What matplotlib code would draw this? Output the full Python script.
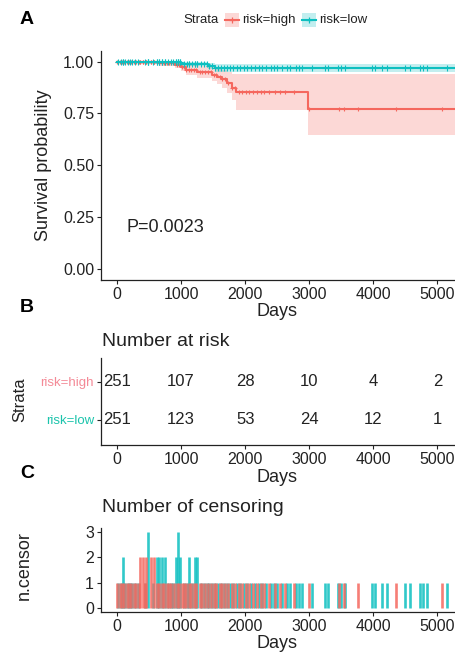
import numpy as np
import matplotlib.pyplot as plt
from matplotlib.lines import Line2D
from matplotlib.patches import Rectangle

W, H = 455, 655
RED = '#F5675E'
TEAL = '#0DBFC0'
INK = '#222222'

# Kaplan-Meier steps
high_time = [0, 320, 650, 900, 1000, 1080, 1250, 1480, 1560, 1640, 1720, 1790, 1850, 2980]
high_surv = [1.0, 0.996, 0.992, 0.985, 0.975, 0.958, 0.948, 0.937, 0.926, 0.915, 0.896, 0.872, 0.852, 0.773]
high_lower = [1.0, 0.988, 0.980, 0.970, 0.957, 0.935, 0.922, 0.905, 0.890, 0.875, 0.850, 0.815, 0.768, 0.645]
high_upper = [1.0, 1.0, 1.0, 1.0, 0.995, 0.985, 0.978, 0.972, 0.965, 0.958, 0.950, 0.942, 0.940, 0.942]

low_time = [0, 600, 1000, 1420, 1530]
low_surv = [1.0, 0.996, 0.990, 0.978, 0.970]
low_lower = [1.0, 0.988, 0.978, 0.962, 0.948]
low_upper = [1.0, 1.0, 1.0, 0.994, 0.990]

last_follow_up = 5300

# censoring times, one entry per censored patient
high_cens = [5, 40, 70, 110, 150, 185, 220, 260, 300, 340, 360, 360, 400, 400, 430,
             460, 460, 530, 530, 580, 580, 620, 660, 700, 740, 780, 810, 850, 890, 930,
             965, 1010, 1040, 1080, 1120, 1160, 1200, 1240, 1290, 1330, 1380, 1420,
             1460, 1510, 1550, 1600, 1640, 1690, 1730, 1790, 1840, 1900, 1950, 2010,
             2060, 2120, 2180, 2240, 2300, 2370, 2470, 2550, 2620, 2770, 2990, 3460,
             3540, 3760, 4360, 5070]
low_cens = [20, 55, 90, 90, 130, 165, 200, 240, 280, 320, 430, 490, 490, 490, 560,
            620, 620, 660, 660, 700, 700, 750, 750, 800, 840, 880, 920, 920, 950, 950,
            950, 985, 985, 1050, 1090, 1130, 1130, 1175, 1220, 1220, 1255, 1255, 1310,
            1350, 1400, 1440, 1490, 1530, 1575, 1620, 1665, 1710, 1760, 1815, 1870,
            1925, 1980, 2035, 2090, 2150, 2210, 2270, 2330, 2400, 2450, 2500, 2580,
            2660, 2700, 2790, 2840, 2890, 3050, 3250, 3290, 3450, 3500, 3560, 3980,
            4030, 4140, 4220, 4500, 4580, 4730, 4780, 4840, 5150]

risk_times = [0, 1000, 2000, 3000, 4000, 5000]
risk_high = [251, 107, 28, 10, 4, 2]
risk_low = [251, 123, 53, 24, 12, 1]

p_value = 'P=0.0023'
xticks = [0, 1000, 2000, 3000, 4000, 5000]
xlim = (-250, 5275)

fig = plt.figure(figsize=(W / 100, H / 100), dpi=100)
plt.rcParams['font.family'] = 'Liberation Sans'


def panel(left, top, right, bottom):
    ax = fig.add_axes([left / W, 1 - bottom / H, (right - left) / W, (bottom - top) / H])
    for s in ['top', 'right']:
        ax.spines[s].set_visible(False)
    for s in ['left', 'bottom']:
        ax.spines[s].set_color(INK)
        ax.spines[s].set_linewidth(0.9)
    ax.tick_params(colors=INK, labelsize=11.5, length=3, width=0.8, pad=2)
    ax.set_xlim(*xlim)
    ax.set_xticks(xticks)
    return ax


def ftext(px, py, s, **kw):
    fig.text(px / W, 1 - py / H, s, **kw)


def km(ax, t, s, lo, hi, cens, color, ms):
    tt = np.array(t + [last_follow_up])
    ss = np.array(s + [s[-1]])
    ax.fill_between(tt, lo + [lo[-1]], hi + [hi[-1]], step='post', color=color,
                    alpha=0.25, lw=0)
    ax.step(tt, ss, where='post', color=color, lw=1.5)
    idx = np.searchsorted(t, cens, side='right') - 1
    ax.plot(cens, np.array(s)[idx], ls='none', marker='+', ms=ms, mew=0.8, color=color)


# ---- panel A
axA = panel(101, 50.6, 455, 280)
km(axA, high_time, high_surv, high_lower, high_upper, high_cens, RED, 3)
km(axA, low_time, low_surv, low_lower, low_upper, low_cens, TEAL, 4)
axA.set_ylim(-0.053, 1.053)
axA.set_yticks([0, 0.25, 0.5, 0.75, 1.0])
axA.set_yticklabels(['0.00', '0.25', '0.50', '0.75', '1.00'])
axA.text(150, 0.2, p_value, fontsize=13, color=INK, va='center', ha='left')

ftext(20, 20, 'A', fontsize=14, fontweight='bold', va='center')
ftext(44, 165, 'Survival probability', fontsize=13, rotation=90, va='center', ha='center', color=INK)
ftext(277, 312, 'Days', fontsize=13, va='center', ha='center', color=INK)

# legend
ftext(183, 20, 'Strata', fontsize=9.5, va='center', color=INK)
for x0, col, lab in [(225, RED, 'risk=high'), (302, TEAL, 'risk=low')]:
    fig.patches.append(Rectangle((x0 / W, 1 - 27 / H), 14 / W, 14 / H,
                                 transform=fig.transFigure, color=col, alpha=0.25, lw=0))
    fig.lines.append(Line2D([x0 / W, (x0 + 14) / W], [1 - 20 / H] * 2, transform=fig.transFigure,
                            color=col, lw=1.5))
    fig.lines.append(Line2D([(x0 + 7) / W], [1 - 20 / H], transform=fig.transFigure,
                            color=col, marker='+', ms=5, mew=0.9))
    ftext(x0 + 17, 20, lab, fontsize=9.5, va='center', color=INK)

# ---- panel B
axB = panel(101, 358, 455, 445)
axB.set_ylim(0.34, 2.63)
axB.set_yticks([2, 1])
axB.set_yticklabels(['risk=high', 'risk=low'], fontsize=9.5)
axB.get_yticklabels()[0].set_color('#F48A97')
axB.get_yticklabels()[1].set_color('#1CC4AC')
for t, a, b in zip(risk_times, risk_high, risk_low):
    axB.text(t, 2, str(a), ha='center', va='center', fontsize=12, color=INK)
    axB.text(t, 1, str(b), ha='center', va='center', fontsize=12, color=INK)
ftext(102, 342, 'Number at risk', fontsize=14, va='center', color=INK)
ftext(20, 308, 'B', fontsize=14, fontweight='bold', va='center')
ftext(20, 400, 'Strata', fontsize=12, rotation=90, va='center', ha='center', color=INK)
ftext(277, 477, 'Days', fontsize=13, va='center', ha='center', color=INK)

# ---- panel C
axC = panel(101, 528, 455, 612)
for cens, col in [(low_cens, TEAL), (high_cens, RED)]:
    tv, nv = np.unique(cens, return_counts=True)
    axC.vlines(tv, 0, nv, color=col, lw=1.9, alpha=0.85)
axC.set_ylim(-0.15, 3.15)
axC.set_yticks([0, 1, 2, 3])
ftext(102, 508, 'Number of censoring', fontsize=14, va='center', color=INK)
ftext(20, 473, 'C', fontsize=14, fontweight='bold', va='center')
ftext(24, 566, 'n.censor', fontsize=13, rotation=90, va='center', ha='center', color=INK)
ftext(277, 643, 'Days', fontsize=13, va='center', ha='center', color=INK)

fig.savefig('out.png', dpi=100)
